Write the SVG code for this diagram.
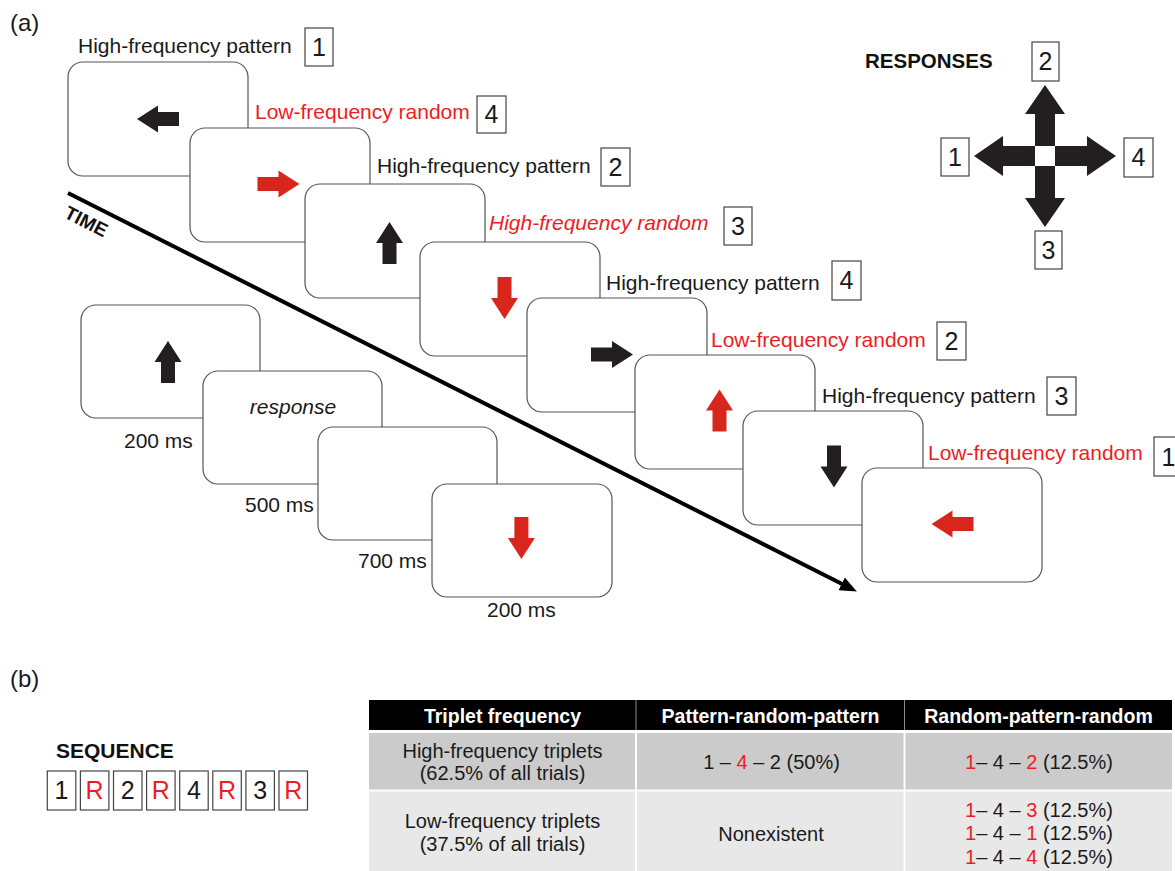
<svg xmlns="http://www.w3.org/2000/svg" width="1175" height="871" viewBox="0 0 1175 871">
<style>
text{font-family:"Liberation Sans",Arial,sans-serif}
.scr{fill:#fff;stroke:#555;stroke-width:1.2}
.lbl{font-size:21px;fill:#1a1a1a}
.box{fill:#fff;stroke:#444;stroke-width:1.2}
.num{font-size:25px;fill:#1a1a1a;text-anchor:middle}
.ms{font-size:21px;fill:#1a1a1a}
.blk{fill:#231f20}
.rar{fill:#d9261c}
.th{font-size:19.5px;font-weight:bold;fill:#fff;text-anchor:middle}
.td{font-size:20px;fill:#1a1a1a;text-anchor:middle}
.hd{font-weight:bold;fill:#111}
.red{fill:#ee1c24}
</style>
<defs>
<path id="ar" d="M-21,-7H0V-13.5L21,0L0,13.5V7H-21Z"/>
<path id="arm" d="M10,-10H42V-20L71,0L42,20V10H10Z"/>
<marker id="tip" markerUnits="userSpaceOnUse" markerWidth="17" markerHeight="14" viewBox="0 0 17 14" refX="1" refY="7" orient="auto">
<path d="M0,0L17,7L0,14Z" fill="#000"/>
</marker>
</defs>

<text x="10" y="30.5" font-size="24" fill="#1a1a1a">(a)</text>
<text x="10" y="687" font-size="24" fill="#1a1a1a">(b)</text>

<g id="connectors">
<line x1="68" y1="193" x2="842.6" y2="584.3" stroke="#000" stroke-width="4" marker-end="url(#tip)"/>
<text x="63" y="217" transform="rotate(27 63 217)" font-size="19" font-weight="bold" fill="#111">TIME</text>
</g>

<g id="trial1">
<rect class="scr" x="68" y="62" width="180" height="114" rx="15"/>
<use href="#ar" class="blk" transform="translate(158,119) rotate(180)"/>
<text class="lbl" x="78" y="53">High-frequency pattern</text>
<rect class="box" x="305" y="28" width="28" height="38"/>
<text class="num" x="319" y="56">1</text>
</g>
<g id="trial2">
<rect class="scr" x="190" y="128" width="180" height="114" rx="15"/>
<use href="#ar" class="rar" transform="translate(278.5,184)"/>
<text class="lbl red" x="255" y="119">Low-frequency random</text>
<rect class="box" x="477" y="96" width="29" height="37"/>
<text class="num" x="491.5" y="123">4</text>
</g>
<g id="trial3">
<rect class="scr" x="305" y="184" width="180" height="114" rx="15"/>
<use href="#ar" class="blk" transform="translate(389.5,243) rotate(-90)"/>
<text class="lbl" x="377" y="173">High-frequency pattern</text>
<rect class="box" x="601" y="148" width="29" height="38"/>
<text class="num" x="615.5" y="176">2</text>
</g>
<g id="trial4">
<rect class="scr" x="420" y="242" width="180" height="114" rx="15"/>
<use href="#ar" class="rar" transform="translate(504.5,298) rotate(90)"/>
<text class="lbl red" x="489" y="230" font-style="italic">High-frequency random</text>
<rect class="box" x="724" y="207" width="28" height="38"/>
<text class="num" x="738" y="235">3</text>
</g>
<g id="trial5">
<rect class="scr" x="527" y="298" width="180" height="114" rx="15"/>
<use href="#ar" class="blk" transform="translate(612,354.5)"/>
<text class="lbl" x="606" y="290">High-frequency pattern</text>
<rect class="box" x="832" y="261" width="29" height="39"/>
<text class="num" x="846.5" y="289">4</text>
</g>
<g id="trial6">
<rect class="scr" x="635" y="355" width="180" height="114" rx="15"/>
<use href="#ar" class="rar" transform="translate(719.5,410.5) rotate(-90)"/>
<text class="lbl red" x="711" y="347">Low-frequency random</text>
<rect class="box" x="937" y="322" width="29" height="38"/>
<text class="num" x="951.5" y="350">2</text>
</g>
<g id="trial7">
<rect class="scr" x="743" y="411" width="180" height="114" rx="15"/>
<use href="#ar" class="blk" transform="translate(834,466.5) rotate(90)"/>
<text class="lbl" x="822" y="403">High-frequency pattern</text>
<rect class="box" x="1047" y="377" width="29" height="38"/>
<text class="num" x="1061.5" y="405">3</text>
</g>
<g id="trial8">
<rect class="scr" x="862" y="468" width="180" height="114" rx="15"/>
<use href="#ar" class="rar" transform="translate(952.5,524) rotate(180)"/>
<text class="lbl red" x="928" y="460">Low-frequency random</text>
<rect class="box" x="1154" y="437" width="29" height="39"/>
<text class="num" x="1168.5" y="466">1</text>
</g>

<g id="responses">
<text x="865" y="68" font-size="20.5" class="hd">RESPONSES</text>
<use href="#arm" class="blk" transform="translate(1045,156)"/>
<use href="#arm" class="blk" transform="translate(1045,156) rotate(90)"/>
<use href="#arm" class="blk" transform="translate(1045,156) rotate(180)"/>
<use href="#arm" class="blk" transform="translate(1045,156) rotate(270)"/>
<rect class="box" x="1032" y="42" width="27" height="39"/>
<text class="num" x="1045.5" y="70">2</text>
<rect class="box" x="941" y="138" width="28" height="38"/>
<text class="num" x="955" y="166">1</text>
<rect class="box" x="1124" y="138" width="29" height="39"/>
<text class="num" x="1138.5" y="166">4</text>
<rect class="box" x="1035" y="231" width="27" height="38"/>
<text class="num" x="1048.5" y="259">3</text>
</g>

<g id="timingA">
<rect class="scr" x="81" y="305" width="179" height="113" rx="15"/>
<use href="#ar" class="blk" transform="translate(168,362) rotate(-90)"/>
<text class="ms" x="124" y="447.5">200 ms</text>
</g>
<g id="timingB">
<rect class="scr" x="203" y="371" width="179" height="113" rx="15"/>
<text class="ms" x="293" y="414" text-anchor="middle" font-style="italic">response</text>
<text class="ms" x="245" y="512">500 ms</text>
</g>
<g id="timingC">
<rect class="scr" x="318" y="427" width="179" height="113" rx="15"/>
<text class="ms" x="358" y="567.5">700 ms</text>
</g>
<g id="timingD">
<rect class="scr" x="432" y="484" width="180" height="113" rx="15"/>
<use href="#ar" class="rar" transform="translate(521.4,538) rotate(90)"/>
<text class="ms" x="487" y="617">200 ms</text>
</g>

<g id="sequence">
<text x="56" y="757.5" font-size="21" class="hd">SEQUENCE</text>
<rect class="box" x="47.3" y="771" width="28.5" height="39"/>
<rect class="box" x="80.4" y="771" width="28.5" height="39"/>
<rect class="box" x="113.5" y="771" width="28.5" height="39"/>
<rect class="box" x="146.6" y="771" width="28.5" height="39"/>
<rect class="box" x="179.7" y="771" width="28.5" height="39"/>
<rect class="box" x="212.8" y="771" width="28.5" height="39"/>
<rect class="box" x="245.9" y="771" width="28.5" height="39"/>
<rect class="box" x="279" y="771" width="28.5" height="39"/>
<text class="num" x="61.5" y="799">1</text>
<text class="num red" x="94.6" y="799">R</text>
<text class="num" x="127.7" y="799">2</text>
<text class="num red" x="160.8" y="799">R</text>
<text class="num" x="193.9" y="799">4</text>
<text class="num red" x="227" y="799">R</text>
<text class="num" x="260.1" y="799">3</text>
<text class="num red" x="293.2" y="799">R</text>
</g>

<g id="table">
<rect x="369" y="700" width="803" height="30" fill="#000"/>
<line x1="636" y1="700" x2="636" y2="730" stroke="#8a8a8a" stroke-width="1"/>
<line x1="904.5" y1="700" x2="904.5" y2="730" stroke="#8a8a8a" stroke-width="1"/>
<rect x="369" y="733" width="803" height="56.5" fill="#cbcbcb"/>
<rect x="369" y="791.5" width="803" height="80" fill="#e8e8e8"/>
<line x1="636" y1="733" x2="636" y2="871" stroke="#fff" stroke-width="2"/>
<line x1="904.5" y1="733" x2="904.5" y2="871" stroke="#fff" stroke-width="2"/>
<text class="th" x="502.5" y="723">Triplet frequency</text>
<text class="th" x="770.5" y="723">Pattern-random-pattern</text>
<text class="th" x="1038.5" y="723">Random-pattern-random</text>
<text class="td" x="502.5" y="757.5">High-frequency triplets</text>
<text class="td" x="502.5" y="780">(62.5% of all trials)</text>
<text class="td" x="771.5" y="769">1 – <tspan class="red">4</tspan> – 2 (50%)</text>
<text class="td" x="1039" y="769"><tspan class="red">1</tspan>– 4 – <tspan class="red">2</tspan> (12.5%)</text>
<text class="td" x="502.5" y="828">Low-frequency triplets</text>
<text class="td" x="502.5" y="851">(37.5% of all trials)</text>
<text class="td" x="771" y="840.5">Nonexistent</text>
<text class="td" x="1039" y="817"><tspan class="red">1</tspan>– 4 – <tspan class="red">3</tspan> (12.5%)</text>
<text class="td" x="1039" y="840"><tspan class="red">1</tspan>– 4 – <tspan class="red">1</tspan> (12.5%)</text>
<text class="td" x="1039" y="863.5"><tspan class="red">1</tspan>– 4 – <tspan class="red">4</tspan> (12.5%)</text>
</g>
</svg>
